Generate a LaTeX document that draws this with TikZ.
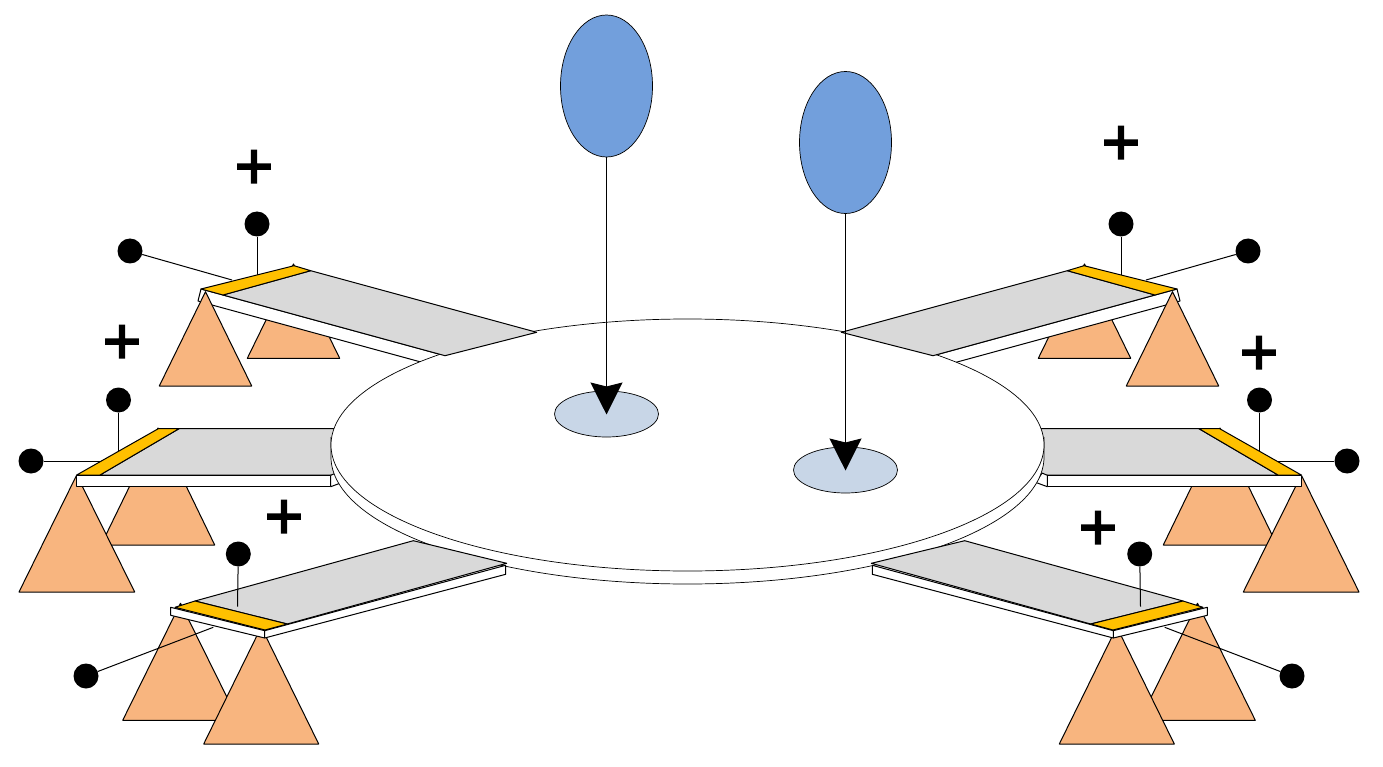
\documentclass[tikz,border=0pt]{standalone}
\usepackage{fontspec}
\setmainfont{Liberation Sans}
\newfontfamily\plusfont[FakeBold=2.5]{Liberation Sans}
\usetikzlibrary{shapes.geometric,arrows.meta}
\definecolor{balloon}{HTML}{729FDC}
\definecolor{spot}{HTML}{C8D6E7}
\definecolor{cone}{HTML}{F8B57F}
\definecolor{goldbar}{HTML}{FFC000}
\definecolor{plate}{HTML}{D9D9D9}
\tikzset{
  outl/.style={draw=black,line width=1pt,line join=round},
  conefill/.style={outl,fill=cone},
  sidefill/.style={outl,fill=white},
  topfill/.style={outl,fill=plate},
  barfill/.style={outl,fill=goldbar},
  wire/.style={draw=black,line width=1pt},
  ball/.style={circle,fill=black,draw=none,inner sep=0pt,minimum size=25pt},
  plus/.style={font=\plusfont\fontsize{66pt}{66pt}\selectfont,inner sep=0pt,yshift=-1.5pt},
  balloonn/.style={ellipse,draw=black,line width=0.7pt,fill=balloon,inner sep=0pt,minimum width=92pt,minimum height=142pt},
  spotn/.style={ellipse,draw=black,line width=0.7pt,fill=spot,inner sep=0pt,minimum width=104pt,minimum height=46pt},
  drop/.style={wire,-{Stealth[length=32pt,width=32pt,inset=4pt]},shorten >=-0.5pt}
}
% parts of the upper and middle arms that lie beneath the disk
\newcommand{\backarms}[1]{%
  % upper arm
  \draw[conefill] (293.5,264) -- (247.3,358.3) -- (339.7,358.3) -- cycle;
  \node[ball] (#1ua) at (130,251) {};
  \node[ball] (#1ub) at (257,224) {};
  \coordinate (#1uae) at (232,280);
  \coordinate (#1ube) at (257,275);
  \draw[wire] (#1ua) -- (#1uae);
  \draw[wire] (#1ub) -- (#1ube);
  \draw[sidefill] (201,289) -- (198,301) -- (212,305) -- (430,364.5) -- (445,355.7) -- (223,295) -- cycle;
  % middle arm
  \draw[conefill] (158,428) -- (101,545) -- (214.7,545) -- cycle;
  \draw[conefill] (76.7,475) -- (19,592) -- (134.7,592) -- cycle;
  \node[ball] (#1ma) at (31,461) {};
  \node[ball] (#1mb) at (118.5,400) {};
  \coordinate (#1mae) at (101.4,461);
  \coordinate (#1mbe) at (118.5,451);
  \draw[wire] (#1ma) -- (#1mae);
  \draw[wire] (#1mb) -- (#1mbe);
  \draw[topfill] (100,475) -- (179,428.7) -- (338,428.7) -- (338,475) -- cycle;
  \draw[barfill] (76.7,475) -- (158.3,428.7) -- (179,428.7) -- (100,475) -- cycle;
  \draw[sidefill] (330.7,475.3) -- (336,473) -- (342,482.5) -- (330.7,486.7) -- cycle;
  \draw[sidefill] (76.3,475.3) rectangle (330.7,486.7);
}
% upper arm top face, which lies on the disk
\newcommand{\upperface}{%
  \draw[topfill] (223,295) -- (310.7,270.7) -- (536.7,332.3) -- (445,355.7) -- cycle;
  \draw[barfill] (201,289) -- (294,265.7) -- (310.7,270.7) -- (223,295) -- cycle;
  \draw[conefill] (205.5,291.7) -- (159.3,386) -- (251.7,386) -- cycle;
}
% lower arms (lie on the disk)
\newcommand{\frontarm}[1]{%
  \draw[conefill] (180.5,603.3) -- (122.7,720.3) -- (238.4,720.3) -- cycle;
  \draw[conefill] (261.2,627) -- (203.7,744) -- (318.7,744) -- cycle;
  \node[ball] (#1la) at (86,676) {};
  \node[ball] (#1lb) at (238.3,554) {};
  \coordinate (#1lae) at (213.3,627.3);
  \coordinate (#1lbe) at (237.5,606.7);
  \draw[wire] (#1la) -- (#1lae);
  \draw[sidefill] (170.7,607.3) -- (264.7,630.7) -- (264.7,638) -- (170.7,615.3) -- cycle;
  \draw[sidefill] (264.7,630.7) -- (505.7,565.3) -- (505.7,574.3) -- (264.7,638) -- cycle;
  \draw[topfill] (195,601) -- (413.3,540.7) -- (506.7,563.3) -- (287.3,624) -- cycle;
  \draw[barfill] (175,607.3) -- (195,601) -- (287.3,624) -- (265,630) -- cycle;
  \draw[wire] (#1lb) -- (#1lbe);
}
\begin{document}
\begin{tikzpicture}[x=1pt,y=-1pt]
  \useasboundingbox (0,0) rectangle (1383,767);
  \fill[white] (0,0) rectangle (1383,767);
  \backarms{l}
  \begin{scope}[shift={(1378,0)},xscale=-1]
    \backarms{r}
  \end{scope}
  % disk
  \draw[draw=black,line width=0.7pt,fill=white] (331,437) -- (331,457) arc[start angle=180,end angle=360,x radius=356.5,y radius=-127] -- (1044,437);
  \draw[draw=black,line width=0.7pt,fill=white] (687.5,445) ellipse[x radius=356.5,y radius=126];
  \upperface
  \begin{scope}[shift={(1378,0)},xscale=-1]
    \upperface
  \end{scope}
  \frontarm{l}
  \begin{scope}[shift={(1378,0)},xscale=-1]
    \frontarm{r}
  \end{scope}
  % spots and balloons
  \node[spotn] (s1) at (606.5,414) {};
  \node[spotn] (s2) at (845.5,470) {};
  \node[balloonn] (b1) at (606.5,86) {};
  \node[balloonn] (b2) at (845.5,142.5) {};
  \draw[drop] (b1.south) -- (s1.center);
  \draw[drop] (b2.south) -- (s2.center);
  % plus signs
  \node[plus] (p1) at (254,168) {+};
  \node[plus] (p2) at (122,343) {+};
  \node[plus] (p3) at (284,518) {+};
  \node[plus] (p4) at (1121,144) {+};
  \node[plus] (p5) at (1259,354) {+};
  \node[plus] (p6) at (1098,529) {+};
\end{tikzpicture}
\end{document}
